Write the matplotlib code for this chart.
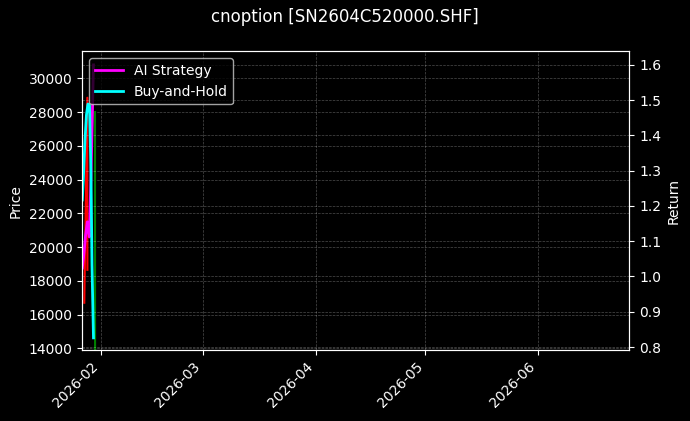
import matplotlib
matplotlib.use("Agg")
import matplotlib.pyplot as plt
import matplotlib.dates as mdates
import pandas as pd

# ---- data ----
title = "cnoption [SN2604C520000.SHF]"

price_up_time = ["2026-01-27 10:00", "2026-01-28 06:00", "2026-01-28 06:30"]
price_up = [16700, 28850, 18650]
price_down_time = ["2026-01-30 08:30", "2026-01-30 09:00"]
price_down = [28000, 13500]

ai_time = ["2026-01-26 21:00", "2026-01-27 10:00", "2026-01-27 18:00", "2026-01-28 06:00",
           "2026-01-28 13:40", "2026-01-28 19:00", "2026-01-29 06:10", "2026-01-29 16:00",
           "2026-01-29 22:35"]
ai_return = [1.024, 1.075, 1.115, 1.155, 1.126, 1.112, 1.288, 1.472, 1.600]

bh_time = ["2026-01-26 21:00", "2026-01-27 03:25", "2026-01-27 14:40", "2026-01-28 00:10",
           "2026-01-28 10:00", "2026-01-28 20:15", "2026-01-29 06:10", "2026-01-29 12:45",
           "2026-01-29 22:35"]
bh_return = [1.217, 1.274, 1.387, 1.458, 1.489, 1.486, 1.288, 1.033, 0.826]

x_range = ["2026-01-26 21:00", "2026-06-25 23:20"]
price_range = [13899, 31589]
return_range = [0.7915, 1.638]

# ---- plot ----
plt.style.use("dark_background")
fig = plt.figure(figsize=(6.9, 4.21), dpi=100)
ax1 = fig.add_axes([0.1193, 0.1686, 0.7928, 0.7091])
ax2 = ax1.twinx()

ax1.plot(pd.to_datetime(price_up_time), price_up, color="red", linewidth=1.5)
ax1.plot(pd.to_datetime(price_down_time), price_down, color="green", linewidth=1.5)

ax2.plot(pd.to_datetime(ai_time), ai_return, color="magenta", linewidth=2, label="AI Strategy")
ax2.plot(pd.to_datetime(bh_time), bh_return, color="cyan", linewidth=2, label="Buy-and-Hold")

ax1.set_xlim(pd.to_datetime(x_range[0]), pd.to_datetime(x_range[1]))
ax1.set_ylim(*price_range)
ax2.set_ylim(*return_range)

ax1.set_ylabel("Price")
ax2.set_ylabel("Return")

ax1.xaxis.set_major_locator(mdates.MonthLocator())
ax1.xaxis.set_major_formatter(mdates.DateFormatter("%Y-%m"))
for lbl in ax1.get_xticklabels():
    lbl.set_rotation(45)
    lbl.set_ha("right")

ax1.grid(True, linestyle="--", linewidth=0.5, alpha=0.3)
ax2.grid(True, linestyle="--", linewidth=0.5, alpha=0.3)

ax2.legend(loc="upper left")
fig.suptitle(title, fontsize=12)

fig.savefig("out.png", dpi=100)
